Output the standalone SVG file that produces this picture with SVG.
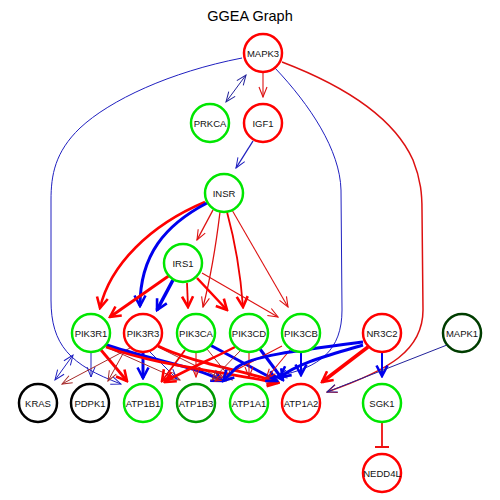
<svg xmlns="http://www.w3.org/2000/svg" width="500" height="500" viewBox="0 0 500 500">
<defs>
<style>
.n circle{fill:#fff;stroke-width:2.5}
.n text{font-family:"Liberation Sans",Arial,sans-serif;font-size:9.5px;fill:#111;text-anchor:middle;dominant-baseline:central}
.g circle{stroke:#00e600}.r circle{stroke:#ff0000}.k circle{stroke:#000}.dg circle{stroke:#009a00}.vdg circle{stroke:#003d00}
.e path,.e line{fill:none}
.rt{stroke:#dd1111;stroke-width:1.1;marker-end:url(#mrt)}
.rm{stroke:#ee0000;stroke-width:1.8;marker-end:url(#mrk)}
.rk{stroke:#ff0000;stroke-width:2.8;marker-end:url(#mrk)}
.dt{stroke:#a52a2a;stroke-width:1;marker-end:url(#mdt)}
.bt{stroke:#2020c0;stroke-width:1;marker-end:url(#mbt)}
.bm{stroke:#0000ee;stroke-width:2;marker-end:url(#mbk)}
.bk{stroke:#0000ee;stroke-width:3;marker-end:url(#mbk)}
.nt{stroke:#22229a;stroke-width:1;marker-end:url(#mnt)}
</style>
<marker id="mrt" markerUnits="userSpaceOnUse" viewBox="0 0 12 10" refX="11" refY="5" markerWidth="12" markerHeight="10" orient="auto-start-reverse"><path d="M1,1 L11,5 L1,9" fill="none" stroke="#dd1111" stroke-width="1.1"/></marker>
<marker id="mrk" markerUnits="userSpaceOnUse" viewBox="0 0 14 14" refX="12" refY="7" markerWidth="14" markerHeight="14" orient="auto-start-reverse"><path d="M1.5,1.5 L12,7 L1.5,12.5" fill="none" stroke="#ff0000" stroke-width="2.6"/></marker>
<marker id="mdt" markerUnits="userSpaceOnUse" viewBox="0 0 12 10" refX="11" refY="5" markerWidth="12" markerHeight="10" orient="auto-start-reverse"><path d="M1,1 L11,5 L1,9" fill="none" stroke="#a52a2a" stroke-width="1"/></marker>
<marker id="mbt" markerUnits="userSpaceOnUse" viewBox="0 0 12 10" refX="11" refY="5" markerWidth="12" markerHeight="10" orient="auto-start-reverse"><path d="M1,1 L11,5 L1,9" fill="none" stroke="#2020c0" stroke-width="1"/></marker>
<marker id="mbk" markerUnits="userSpaceOnUse" viewBox="0 0 14 14" refX="12" refY="7" markerWidth="14" markerHeight="14" orient="auto-start-reverse"><path d="M1.5,1.5 L12,7 L1.5,12.5" fill="none" stroke="#0000ee" stroke-width="2.6"/></marker>
<marker id="mnt" markerUnits="userSpaceOnUse" viewBox="0 0 12 10" refX="11" refY="5" markerWidth="12" markerHeight="10" orient="auto-start-reverse"><path d="M1,1 L11,5 L1,9" fill="none" stroke="#22229a" stroke-width="1"/></marker>
</defs>
<rect width="500" height="500" fill="#fff"/>
<text x="250" y="21" font-family="'Liberation Sans',Arial,sans-serif" font-size="14.5" text-anchor="middle" fill="#000">GGEA Graph</text>
<g id="connectors" class="e">
<line class="nt" x1="246" y1="75" x2="226" y2="102" marker-start="url(#mnt)"/>
<line class="rt" x1="263" y1="73" x2="263" y2="97"/>
<line class="bt" style="stroke-width:1.4" x1="253" y1="141" x2="236" y2="168"/>
<path class="bt" d="M242,58 C170,72 110,100 80,128 C55,152 51,175 51,200 L51,300 C51,345 70,365 121,384"/>
<path class="bt" d="M275,68 C310,105 340,150 341,190 L342,310 C342,350 320,368 277,376"/>
<path class="rt" style="stroke-width:1.5" d="M282,62 C350,88 395,120 413,160 C421,180 422,195 422,210 L423,310 C423,350 390,370 327,392"/>
<line class="rt" style="stroke-width:1.4" x1="213" y1="210" x2="197" y2="240"/>
<path class="rk" style="stroke-width:2.5" d="M205,202 C150,225 110,265 100,308"/>
<path class="bk" d="M207,203 C165,225 140,255 140,306"/>
<path class="rt" style="stroke-width:1.3" d="M220,212 C216,245 210,280 203,307"/>
<path class="rm" d="M227,212 C236,245 241,280 243,307"/>
<line class="rt" x1="232" y1="210" x2="288" y2="307"/>
<line class="rk" x1="170" y1="275" x2="110" y2="317"/>
<line class="bk" style="stroke-width:3.5" x1="173" y1="280" x2="157" y2="310"/>
<line class="rm" x1="187" y1="283" x2="188" y2="307"/>
<line class="rk" style="stroke-width:2.5" x1="197" y1="278" x2="227" y2="310"/>
<line class="rt" x1="202" y1="273" x2="278" y2="317"/>
<line class="bt" x1="55" y1="380" x2="73" y2="355" marker-start="url(#mbt)"/>
<line class="bt" x1="91" y1="353" x2="91" y2="377"/>
<line class="rk" x1="101" y1="350" x2="127" y2="381"/>
<line class="dt" x1="130" y1="348" x2="62" y2="384"/>
<line class="dt" x1="125" y1="350" x2="108" y2="381"/>
<line class="bk" x1="143" y1="353" x2="143" y2="378"/>
<line class="dt" x1="106" y1="347" x2="180" y2="380"/>
<line class="bt" x1="150" y1="352" x2="177" y2="379"/>
<line class="dt" x1="158" y1="347" x2="226" y2="381"/>
<path class="bk" d="M104,344 C150,360 195,366 222,381"/>
<path class="rk" d="M106,347 C160,366 215,370 278,383"/>
<path class="rk" d="M158,346 C190,362 240,370 278,382"/>
<line class="rm" x1="185" y1="350" x2="162" y2="381"/>
<line class="rt" x1="196" y1="353" x2="196" y2="377"/>
<line class="dt" x1="207" y1="349" x2="232" y2="380"/>
<line class="bk" x1="210" y1="345" x2="277" y2="381"/>
<path class="rk" style="stroke-width:2.5" d="M235,347 C210,360 185,370 165,382"/>
<line class="dt" x1="240" y1="351" x2="212" y2="380"/>
<line class="rt" x1="249" y1="353" x2="249" y2="377"/>
<line class="bk" x1="260" y1="349" x2="283" y2="380"/>
<line class="rt" x1="290" y1="350" x2="266" y2="379"/>
<line class="rt" x1="282" y1="346" x2="215" y2="381"/>
<line class="bm" x1="301" y1="353" x2="301" y2="375"/>
<path class="bk" d="M363,342 C300,350 250,356 236,368 L223,381"/>
<path class="bk" d="M363,345 C330,355 300,362 280,377"/>
<line class="rk" style="stroke-width:3.5" x1="368" y1="347" x2="322" y2="382"/>
<line class="bm" x1="382" y1="353" x2="382" y2="376"/>
<line class="nt" x1="447" y1="345" x2="327" y2="392"/>
<path d="M382,423 L382,447 M375,447 L389,447" stroke="#ee1111" stroke-width="1.8" fill="none"/>
</g>
<g id="MAPK3" class="n r"><circle cx="263" cy="53" r="19"/><text x="263" y="53">MAPK3</text></g>
<g id="PRKCA" class="n g"><circle cx="210" cy="123" r="19"/><text x="210" y="123">PRKCA</text></g>
<g id="IGF1" class="n r"><circle cx="263" cy="123" r="19"/><text x="263" y="123">IGF1</text></g>
<g id="INSR" class="n g"><circle cx="224" cy="193" r="19"/><text x="224" y="193">INSR</text></g>
<g id="IRS1" class="n g"><circle cx="183" cy="263" r="19"/><text x="183" y="263">IRS1</text></g>
<g id="PIK3R1" class="n g"><circle cx="91" cy="333" r="19"/><text x="91" y="333">PIK3R1</text></g>
<g id="PIK3R3" class="n r"><circle cx="143" cy="333" r="19"/><text x="143" y="333">PIK3R3</text></g>
<g id="PIK3CA" class="n g"><circle cx="196" cy="333" r="19"/><text x="196" y="333">PIK3CA</text></g>
<g id="PIK3CD" class="n g"><circle cx="249" cy="333" r="19"/><text x="249" y="333">PIK3CD</text></g>
<g id="PIK3CB" class="n g"><circle cx="301" cy="333" r="19"/><text x="301" y="333">PIK3CB</text></g>
<g id="NR3C2" class="n r"><circle cx="382" cy="333" r="19"/><text x="382" y="333">NR3C2</text></g>
<g id="MAPK1" class="n vdg"><circle cx="462" cy="333" r="19"/><text x="462" y="333">MAPK1</text></g>
<g id="KRAS" class="n k"><circle cx="38" cy="403" r="19"/><text x="38" y="403">KRAS</text></g>
<g id="PDPK1" class="n k"><circle cx="90" cy="403" r="19"/><text x="90" y="403">PDPK1</text></g>
<g id="ATP1B1" class="n g"><circle cx="143" cy="403" r="19"/><text x="143" y="403">ATP1B1</text></g>
<g id="ATP1B3" class="n dg"><circle cx="196" cy="403" r="19"/><text x="196" y="403">ATP1B3</text></g>
<g id="ATP1A1" class="n g"><circle cx="249" cy="403" r="19"/><text x="249" y="403">ATP1A1</text></g>
<g id="ATP1A2" class="n r"><circle cx="301" cy="403" r="19"/><text x="301" y="403">ATP1A2</text></g>
<g id="SGK1" class="n g"><circle cx="382" cy="403" r="19"/><text x="382" y="403">SGK1</text></g>
<g id="NEDD4L" class="n r"><circle cx="382" cy="473" r="19"/><text x="382" y="473">NEDD4L</text></g>
</svg>
